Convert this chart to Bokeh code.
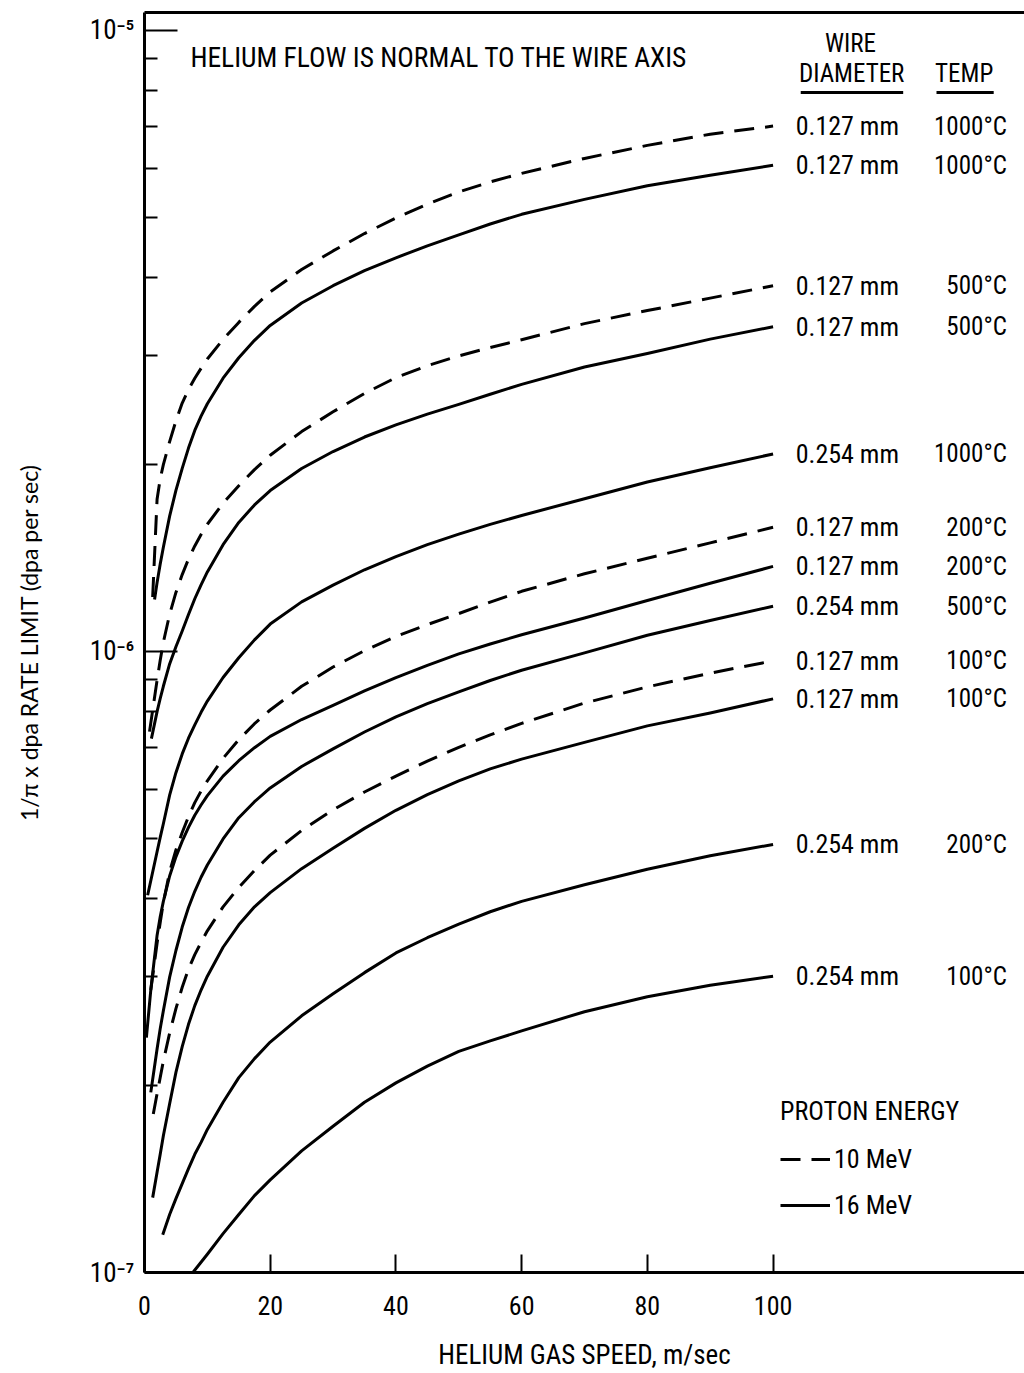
from bokeh.plotting import figure
from bokeh.models import (FixedTicker, LinearAxis, Label, Legend, LegendItem,
                          BoxAnnotation, CustomJSTickFormatter, Range1d)
from bokeh.embed import file_html
from bokeh.resources import INLINE

FONT = "'Liberation Sans Narrow', 'Roboto Condensed', 'DejaVu Sans Condensed', sans-serif"
YFONT = "Lato"
INK = "black"

# ---------------- data ----------------
x_ticks = [0, 20, 40, 60, 80, 100]
y_major = [1e-7, 1e-6, 1e-5]
y_minor = [2e-7, 3e-7, 4e-7, 5e-7, 6e-7, 7e-7, 8e-7, 9e-7,
           2e-6, 3e-6, 4e-6, 5e-6, 6e-6, 7e-6, 8e-6, 9e-6]

diameters = ["0.127 mm", "0.127 mm", "0.127 mm", "0.127 mm", "0.254 mm", "0.127 mm",
             "0.127 mm", "0.254 mm", "0.127 mm", "0.127 mm", "0.254 mm", "0.254 mm"]
temps = ["1000°C", "1000°C", "500°C", "500°C", "1000°C", "200°C",
         "200°C", "500°C", "100°C", "100°C", "200°C", "100°C"]
energies = ["10 MeV", "16 MeV", "10 MeV", "16 MeV", "16 MeV", "10 MeV",
            "16 MeV", "16 MeV", "10 MeV", "16 MeV", "16 MeV", "16 MeV"]

speed_01 = [1.3, 2, 2.5, 3, 4, 5, 6, 7, 8, 9, 10, 12.5, 15, 17.5, 20, 25, 30, 35, 40, 45,
            50, 55, 60, 70, 80, 90, 100]
rate_01 = [1.224e-6, 1.758e-6, 1.897e-6, 2.000e-6, 2.178e-6, 2.351e-6, 2.512e-6, 2.642e-6,
           2.754e-6, 2.858e-6, 2.958e-6, 3.181e-6, 3.388e-6, 3.595e-6, 3.793e-6, 4.123e-6,
           4.416e-6, 4.710e-6, 4.989e-6, 5.253e-6, 5.495e-6, 5.703e-6, 5.888e-6, 6.223e-6,
           6.531e-6, 6.808e-6, 7.015e-6]

speed_02 = [1.6, 2, 2.5, 3, 4, 5, 6, 7, 8, 9, 10, 12.5, 15, 17.5, 20, 25, 30, 35, 40, 45,
            50, 55, 60, 70, 80, 90, 100]
rate_02 = [1.213e-6, 1.291e-6, 1.383e-6, 1.472e-6, 1.652e-6, 1.817e-6, 1.972e-6, 2.126e-6,
           2.270e-6, 2.393e-6, 2.506e-6, 2.755e-6, 2.972e-6, 3.170e-6, 3.350e-6, 3.641e-6,
           3.882e-6, 4.104e-6, 4.305e-6, 4.501e-6, 4.688e-6, 4.879e-6, 5.058e-6, 5.346e-6,
           5.623e-6, 5.848e-6, 6.067e-6]

speed_03 = [0.8, 2, 2.5, 3, 4, 5, 6, 7, 8, 9, 10, 12.5, 15, 17.5, 20, 25, 30, 35, 40, 45,
            50, 55, 60, 70, 80, 90, 100]
rate_03 = [7.43e-7, 8.99e-7, 9.68e-7, 1.035e-6, 1.148e-6, 1.245e-6, 1.330e-6, 1.409e-6,
           1.479e-6, 1.543e-6, 1.603e-6, 1.733e-6, 1.849e-6, 1.963e-6, 2.070e-6, 2.260e-6,
           2.432e-6, 2.604e-6, 2.761e-6, 2.886e-6, 2.992e-6, 3.087e-6, 3.177e-6, 3.373e-6,
           3.540e-6, 3.707e-6, 3.882e-6]

speed_04 = [1.1, 2, 2.5, 3, 4, 5, 6, 7, 8, 9, 10, 12.5, 15, 17.5, 20, 25, 30, 35, 40, 45,
            50, 55, 60, 70, 80, 90, 100]
rate_04 = [7.24e-7, 8.00e-7, 8.40e-7, 8.79e-7, 9.55e-7, 1.018e-6, 1.079e-6, 1.147e-6,
           1.216e-6, 1.280e-6, 1.343e-6, 1.486e-6, 1.614e-6, 1.722e-6, 1.816e-6, 1.971e-6,
           2.099e-6, 2.215e-6, 2.317e-6, 2.411e-6, 2.500e-6, 2.596e-6, 2.692e-6, 2.871e-6,
           3.020e-6, 3.184e-6, 3.334e-6]

speed_05 = [0.5, 2, 2.5, 3, 4, 5, 6, 7, 8, 9, 10, 12.5, 15, 17.5, 20, 25, 30, 35, 40, 45,
            50, 55, 60, 70, 80, 90, 100]
rate_05 = [4.05e-7, 4.76e-7, 5.02e-7, 5.28e-7, 5.87e-7, 6.38e-7, 6.84e-7, 7.25e-7,
           7.62e-7, 7.98e-7, 8.32e-7, 9.08e-7, 9.77e-7, 1.044e-6, 1.107e-6, 1.202e-6,
           1.279e-6, 1.354e-6, 1.422e-6, 1.486e-6, 1.545e-6, 1.602e-6, 1.656e-6, 1.762e-6,
           1.875e-6, 1.977e-6, 2.080e-6]

speed_06 = [1.0, 2, 2.5, 3, 4, 5, 6, 7, 8, 9, 10, 12.5, 15, 17.5, 20, 25, 30, 35, 40, 45,
            50, 55, 60, 70, 80, 90, 100]
rate_06 = [2.85e-7, 3.39e-7, 3.66e-7, 3.94e-7, 4.42e-7, 4.79e-7, 5.11e-7, 5.42e-7,
           5.71e-7, 5.96e-7, 6.19e-7, 6.73e-7, 7.21e-7, 7.65e-7, 8.05e-7, 8.79e-7,
           9.44e-7, 1.003e-6, 1.057e-6, 1.105e-6, 1.151e-6, 1.201e-6, 1.250e-6, 1.334e-6,
           1.413e-6, 1.496e-6, 1.585e-6]

speed_07 = [0.3, 1, 2, 2.5, 3, 4, 5, 6, 7, 8, 9, 10, 12.5, 15, 17.5, 20, 25, 30, 35, 40, 45,
            50, 55, 60, 70, 80, 90, 100]
rate_07 = [2.39e-7, 2.85e-7, 3.49e-7, 3.74e-7, 3.96e-7, 4.35e-7, 4.67e-7, 4.95e-7, 5.21e-7,
           5.45e-7, 5.66e-7, 5.86e-7, 6.30e-7, 6.67e-7, 7.00e-7, 7.30e-7, 7.77e-7,
           8.19e-7, 8.64e-7, 9.08e-7, 9.50e-7, 9.91e-7, 1.028e-6, 1.064e-6, 1.132e-6,
           1.208e-6, 1.288e-6, 1.371e-6]

speed_08 = [1.0, 2, 2.5, 3, 4, 5, 6, 7, 8, 9, 10, 12.5, 15, 17.5, 20, 25, 30, 35, 40, 45,
            50, 55, 60, 70, 80, 90, 100]
rate_08 = [1.95e-7, 2.29e-7, 2.47e-7, 2.64e-7, 2.99e-7, 3.30e-7, 3.60e-7, 3.87e-7,
           4.11e-7, 4.33e-7, 4.53e-7, 4.99e-7, 5.40e-7, 5.73e-7, 6.03e-7, 6.53e-7,
           6.97e-7, 7.42e-7, 7.85e-7, 8.24e-7, 8.61e-7, 8.98e-7, 9.33e-7, 9.95e-7,
           1.062e-6, 1.122e-6, 1.183e-6]

speed_09 = [1.4, 2, 2.5, 3, 4, 5, 6, 7, 8, 9, 10, 12.5, 15, 17.5, 20, 25, 30, 35, 40, 45,
            50, 55, 60, 70, 80, 90, 100]
rate_09 = [1.80e-7, 1.94e-7, 2.06e-7, 2.19e-7, 2.43e-7, 2.66e-7, 2.88e-7, 3.08e-7,
           3.25e-7, 3.40e-7, 3.55e-7, 3.88e-7, 4.17e-7, 4.44e-7, 4.70e-7, 5.15e-7,
           5.56e-7, 5.94e-7, 6.30e-7, 6.66e-7, 7.01e-7, 7.34e-7, 7.66e-7, 8.26e-7,
           8.77e-7, 9.23e-7, 9.66e-7]

speed_10 = [1.3, 2, 2.5, 3, 4, 5, 6, 7, 8, 9, 10, 12.5, 15, 17.5, 20, 25, 30, 35, 40, 45,
            50, 55, 60, 70, 80, 90, 100]
rate_10 = [1.32e-7, 1.45e-7, 1.55e-7, 1.66e-7, 1.87e-7, 2.10e-7, 2.31e-7, 2.51e-7,
           2.69e-7, 2.85e-7, 3.00e-7, 3.34e-7, 3.63e-7, 3.88e-7, 4.09e-7, 4.47e-7,
           4.82e-7, 5.19e-7, 5.55e-7, 5.88e-7, 6.19e-7, 6.47e-7, 6.71e-7, 7.14e-7,
           7.59e-7, 7.96e-7, 8.39e-7]

speed_11 = [2.9, 4, 5, 6, 7, 8, 9, 10, 12.5, 15, 17.5, 20, 25, 30, 35, 40, 45, 50, 55, 60,
            70, 80, 90, 100]
rate_11 = [1.15e-7, 1.24e-7, 1.315e-7, 1.39e-7, 1.47e-7, 1.55e-7, 1.62e-7, 1.70e-7,
           1.88e-7, 2.06e-7, 2.21e-7, 2.35e-7, 2.59e-7, 2.81e-7, 3.04e-7, 3.27e-7,
           3.46e-7, 3.64e-7, 3.81e-7, 3.96e-7, 4.21e-7, 4.46e-7, 4.69e-7, 4.89e-7]

speed_12 = [7.7, 10, 12.5, 15, 17.5, 20, 25, 30, 35, 40, 45, 50, 55, 60, 70, 80, 90, 100]
rate_12 = [1.00e-7, 1.07e-7, 1.155e-7, 1.24e-7, 1.33e-7, 1.41e-7, 1.57e-7, 1.72e-7,
           1.88e-7, 2.02e-7, 2.15e-7, 2.27e-7, 2.36e-7, 2.45e-7, 2.63e-7, 2.78e-7,
           2.90e-7, 3.00e-7]

speeds = [speed_01, speed_02, speed_03, speed_04, speed_05, speed_06,
          speed_07, speed_08, speed_09, speed_10, speed_11, speed_12]
rates = [rate_01, rate_02, rate_03, rate_04, rate_05, rate_06,
         rate_07, rate_08, rate_09, rate_10, rate_11, rate_12]

# ---------------- annotation positions ----------------
DIAM_X = 103.6
TEMP_X = 137.2
TITLE_X, TITLE_Y = 7.3, 9.05e-6
WIRE_X, WIRE_Y = 112.3, 9.53e-6
HEAD_Y = 8.53e-6
DIAM_HEAD_X, TEMP_HEAD_X = 112.5, 130.4

# ---------------- figure ----------------
p = figure(width=1024, height=1373, x_range=Range1d(0, 140),
           y_range=Range1d(1e-7, 1.069e-5), y_axis_type="log",
           output_backend="svg", toolbar_location=None,
           min_border_left=144, min_border_right=0, min_border_top=12,
           min_border_bottom=98, background_fill_color="white",
           border_fill_color="white")
p.outline_line_color = None
p.grid.visible = False

first = {}
for sx, ry, e in zip(speeds, rates, energies):
    r = p.line(sx, ry, line_color=INK, line_width=3, line_join="round",
               line_dash="20 11" if e == "10 MeV" else "solid")
    first.setdefault(e, r)

# x axis
xa = p.xaxis[0]
xa.ticker = FixedTicker(ticks=x_ticks)
xa.major_tick_in = 18
xa.major_tick_out = 0
xa.minor_tick_line_color = None
xa.axis_line_width = 3
xa.axis_line_color = INK
xa.major_tick_line_width = 2
xa.major_tick_line_color = INK
xa.major_label_text_font = FONT
xa.major_label_text_font_size = "26px"
xa.major_label_text_color = INK
xa.major_label_standoff = 23
xa.axis_label = "HELIUM GAS SPEED, m/sec"
xa.axis_label_text_font = FONT
xa.axis_label_text_font_size = "27px"
xa.axis_label_text_font_style = "normal"
xa.axis_label_text_color = INK
xa.axis_label_standoff = 21

# y axis
ya = p.yaxis[0]
ya.ticker = FixedTicker(ticks=y_major, minor_ticks=y_minor)
ya.major_tick_in = 33
ya.major_tick_out = 0
ya.minor_tick_in = 13
ya.minor_tick_out = 0
ya.axis_line_width = 3
ya.axis_line_color = INK
ya.major_tick_line_width = 2
ya.major_tick_line_color = INK
ya.minor_tick_line_width = 2
ya.minor_tick_line_color = INK
ya.formatter = CustomJSTickFormatter(code="""
const e = Math.round(Math.log10(tick));
const sup = {'-':'\u207b','0':'\u2070','1':'\u00b9','2':'\u00b2','3':'\u00b3','4':'\u2074',
             '5':'\u2075','6':'\u2076','7':'\u2077','8':'\u2078','9':'\u2079'};
return '10' + String(e).split('').map(c => sup[c]).join('');
""")
ya.major_label_text_font = FONT
ya.major_label_text_font_size = "27px"
ya.major_label_text_color = INK
ya.major_label_standoff = 10
ya.axis_label = "1/π x dpa RATE LIMIT (dpa per sec)"
ya.axis_label_text_font = YFONT
ya.axis_label_text_font_size = "23px"
ya.axis_label_text_font_style = "normal"
ya.axis_label_text_color = INK
ya.axis_label_standoff = 44

# top frame line
top = LinearAxis(ticker=FixedTicker(ticks=[]), axis_line_width=3, axis_line_color=INK,
                 major_tick_line_color=None, minor_tick_line_color=None,
                 major_label_text_font_size="0px")
p.add_layout(top, "above")

# texts
def label(x, y, text, size, align="left"):
    p.add_layout(Label(x=x, y=y, text=text, text_font=FONT, text_font_size=size,
                       text_color=INK, text_baseline="middle", text_align=align))

label(TITLE_X, TITLE_Y, "HELIUM FLOW IS NORMAL TO THE WIRE AXIS", "27.5px")
label(WIRE_X, WIRE_Y, "WIRE", "25px", "center")
label(DIAM_HEAD_X, HEAD_Y, "DIAMETER", "25px", "center")
label(TEMP_HEAD_X, HEAD_Y, "TEMP", "25px", "center")
p.add_layout(BoxAnnotation(left=104.4, right=120.7, bottom=7.90e-6, top=7.99e-6,
                           fill_color=INK, fill_alpha=1, line_color=None))
p.add_layout(BoxAnnotation(left=126.0, right=135.1, bottom=7.90e-6, top=7.99e-6,
                           fill_color=INK, fill_alpha=1, line_color=None))

for ry, d, t in zip(rates, diameters, temps):
    label(DIAM_X, ry[-1], d, "26px", "left")
    label(TEMP_X, ry[-1], t, "25px", "right")

legend = Legend(items=[LegendItem(label="10 MeV", renderers=[first["10 MeV"]]),
                       LegendItem(label="16 MeV", renderers=[first["16 MeV"]])],
                title="PROTON ENERGY", location=(636, 52), orientation="vertical",
                glyph_width=50, glyph_height=28, label_height=28, label_standoff=4,
                spacing=16, padding=0, margin=0, title_standoff=18,
                label_text_font=FONT, label_text_font_size="26px", label_text_color=INK,
                title_text_font=FONT, title_text_font_size="26px", title_text_color=INK,
                title_text_font_style="normal",
                background_fill_alpha=0, border_line_alpha=0)
p.add_layout(legend)

open("out.html", "w").write(file_html(p, INLINE))
